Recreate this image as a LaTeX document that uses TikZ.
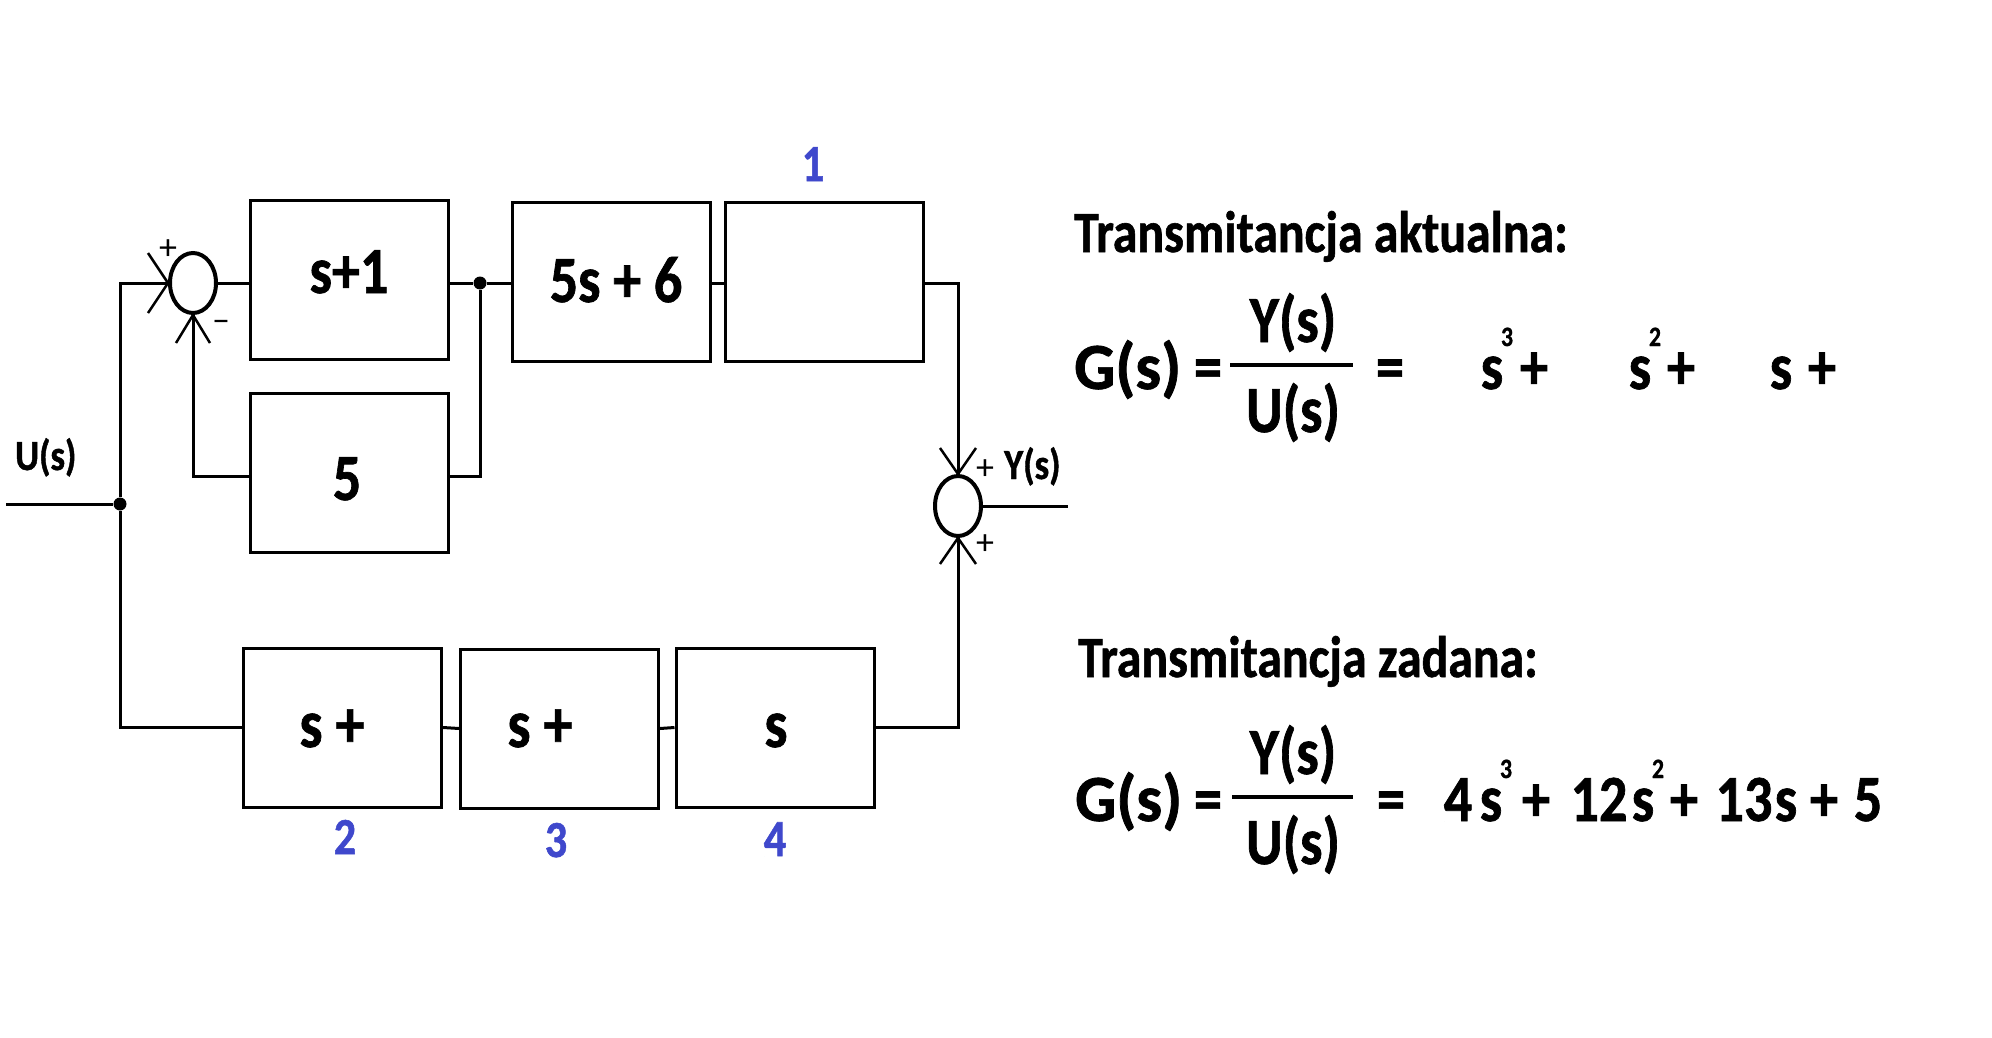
\documentclass[tikz,border=0pt]{standalone}
\usepackage{graphicx}
\usepackage{fontspec}
\setmainfont{Carlito}[FakeStretch=0.85,BoldFeatures={FakeBold=1}]
\newfontfamily\plainfont{Carlito}
\usetikzlibrary{shapes.geometric,calc}
\definecolor{lblue}{RGB}{63,72,204}
\begin{document}
\begin{tikzpicture}[x=1pt,y=-1pt,
  blk/.style={draw,line width=3pt,minimum width=198pt,minimum height=159pt,inner sep=0pt},
  sumj/.style={draw,ellipse,line width=4pt,minimum width=46pt,minimum height=60pt,inner sep=0pt},
  wire/.style={line width=3pt},
  leg/.style={line width=2.5pt},
  jdot/.style={circle,fill,inner sep=0pt,minimum size=13pt},
  btxt/.style={inner sep=0pt,anchor=base,font=\bfseries\fontsize{66}{70}\selectfont},
  bbtxt/.style={inner sep=0pt,anchor=base,font=\bfseries\fontsize{68}{70}\selectfont},
  num/.style={inner sep=0pt,anchor=base,text=lblue,font=\bfseries\fontsize{52}{56}\selectfont},
  sig/.style={inner sep=0pt,anchor=base,font=\bfseries\fontsize{43}{46}\selectfont},
  pm/.style={inner sep=0pt,font=\plainfont\fontsize{36}{40}\selectfont},
  head/.style={inner sep=0pt,anchor=base west,font=\bfseries\fontsize{58.5}{62}\selectfont},
  eq/.style={inner sep=0pt,anchor=base,font=\bfseries\fontsize{66}{70}\selectfont},
  sup/.style={inner sep=0pt,anchor=base,font=\bfseries\fontsize{28}{30}\selectfont},
  frac/.style={line width=4pt}]
\useasboundingbox[fill=white] (0,0) rectangle (1992,1038);

% blocks
\node[blk] (b1) at (349,280) {};
\node[blk] (bA) at (611.5,281.5) {};
\node[blk] (bB) at (824.5,281.5) {};
\node[blk] (b5) at (349,472.5) {};
\node[blk] (b2) at (342.5,727.5) {};
\node[blk] (b3) at (559.5,728.5) {};
\node[blk] (b4) at (775,727.5) {};

% block texts
\node[btxt] (t1) at (349,293) {s+1};
\node[btxt] (tA) at (616,302) {5s + 6};
\node[btxt] (t5) at (347,500) {5};
\node[bbtxt] (t2) at (332,747) {s +};
\node[bbtxt] (t3) at (540,747) {s +};
\node[bbtxt] (t4) at (776,747) {s};

% blue numbers
\node[num] (n1) at (813,181) {1};
\node[num] (n2) at (345,854) {2};
\node[num] (n3) at (556,857) {3};
\node[num] (n4) at (775,856) {4};

% summing junctions
\node[sumj] (j1) at (193,283) {};
\node[sumj] (j2) at (958,506) {};
\node[pm] (p1) at (168,250) {+};
\node[pm] (m1) at (221,326) {\textendash};
\node[pm] (p2) at (985,470) {+};
\node[pm] (p3) at (985,545) {+};

% junction dots and free ends
\node[jdot] (d1) at (120,504) {};
\node[jdot] (d2) at (480,283) {};
\coordinate (uin) at (6,504);
\coordinate (yout) at (1068,506);
\coordinate (fbR) at (480,476);
\coordinate (fbL) at (193,476);

% signals
\node[sig,anchor=base west] (us) at (15,470) {U(s)};
\node[sig,anchor=base west] (ys) at (1004,479) {Y(s)};

% connectors
\draw[wire] (uin) -- (d1);
\draw[wire] (d1) |- (j1.west);
\draw[wire] (d1) |- (b2.west);
\draw[wire] (j1.east) -- (j1.east -| b1.west);
\draw[wire] (b1.east |- d2) -- (d2) -- (d2 -| bA.west);
\draw[wire] (bA.east |- d2) -- (bB.west |- d2);
\draw[wire] (bB.east |- d2) -| (j2.north);
\draw[wire] (d2) -- (fbR) -- (fbR -| b5.east);
\draw[wire] (fbR -| b5.west) -- (fbL) -- (j1.south);
\draw[wire] (b2.east) -- (b3.west);
\draw[wire] (b3.east) -- (b4.west);
\draw[wire] (b4.east) -| (j2.south);
\draw[wire] (j2.east) -- (yout);

% arrow legs
\draw[leg] (j1.west) -- ++(-20,-30);
\draw[leg] (j1.west) -- ++(-20,30);
\draw[leg] (j1.south) -- ++(-17,28);
\draw[leg] (j1.south) -- ++(17,28);
\draw[leg] (j2.north) -- ++(-18,-26);
\draw[leg] (j2.north) -- ++(18,-26);
\draw[leg] (j2.south) -- ++(-18,26);
\draw[leg] (j2.south) -- ++(18,26);

% right: actual transfer function
\node[head] (h1) at (1074,252) {Transmitancja aktualna:};
\node[eq,anchor=base west] (g1) at (1074,389) {\scalebox{1.15}[1]{G(s)}};
\node[eq] (e1a) at (1208,389) {=};
\node[eq] (y1) at (1293,342) {Y(s)};
\node[eq] (u1) at (1293,432) {U(s)};
\draw[frac] (1230,365) -- (1353,365);
\node[eq] (e1b) at (1390,389) {=};
\node[eq] (s13) at (1492,389) {s};
\node[sup] (x13) at (1507,346) {3};
\node[eq] (q11) at (1534,389) {+};
\node[eq] (s12) at (1640,389) {s};
\node[sup] (x12) at (1655,346) {2};
\node[eq] (q12) at (1681,389) {+};
\node[eq] (s11) at (1781,389) {s};
\node[eq] (q13) at (1822,389) {+};

% right: required transfer function
\node[head] (h2) at (1078,677) {Transmitancja zadana:};
\node[eq,anchor=base west] (g2) at (1075,821) {\scalebox{1.15}[1]{G(s)}};
\node[eq] (e2a) at (1208,821) {=};
\node[eq] (y2) at (1293,774) {Y(s)};
\node[eq] (u2) at (1293,864) {U(s)};
\draw[frac] (1232,797) -- (1353,797);
\node[eq] (e2b) at (1391,821) {=};
\node[eq] (c4) at (1458,821) {4};
\node[eq] (s23) at (1491,821) {s};
\node[sup] (x23) at (1506,778) {3};
\node[eq] (q21) at (1536,821) {+};
\node[eq] (c12) at (1599,821) {12};
\node[eq] (s22) at (1643,821) {s};
\node[sup] (x22) at (1658,778) {2};
\node[eq] (q22) at (1684,821) {+};
\node[eq] (c13) at (1744,821) {13};
\node[eq] (s21) at (1786,821) {s};
\node[eq] (q23) at (1824,821) {+};
\node[eq] (c5) at (1868,821) {5};
\end{tikzpicture}
\end{document}
